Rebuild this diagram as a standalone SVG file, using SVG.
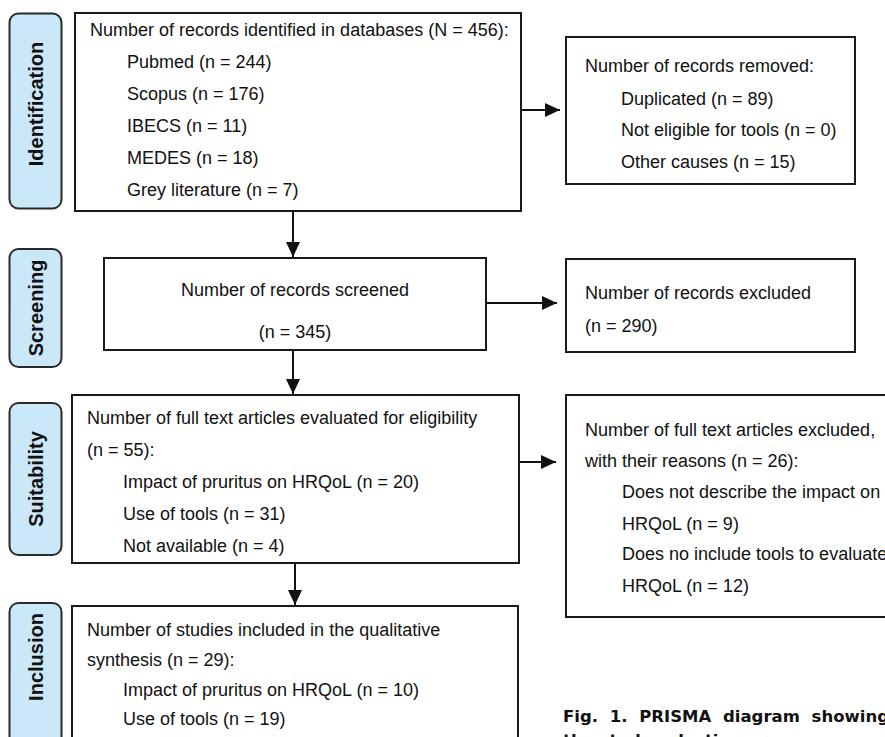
<svg xmlns="http://www.w3.org/2000/svg" width="885" height="737" viewBox="0 0 885 737">
<style>
  .box { fill: #ffffff; stroke: #1a1a1a; stroke-width: 2; }
  .side { fill: #cbe8f9; stroke: #2a2a2a; stroke-width: 2; }
  .t { font-family: "Liberation Sans", Arial, sans-serif; font-size: 18px; fill: #111111; }
  .lbl { font-family: "Liberation Sans", Arial, sans-serif; font-size: 20px; font-weight: bold; fill: #111111; text-anchor: middle; }
  .cap { font-family: "DejaVu Sans", Verdana, sans-serif; font-size: 16.5px; font-weight: bold; fill: #111111; }
  .conn line { stroke: #111111; stroke-width: 2; marker-end: url(#arr); }
</style>
<defs>
  <marker id="arr" markerUnits="userSpaceOnUse" markerWidth="15" markerHeight="14" viewBox="0 0 15 14" refX="15" refY="7" orient="auto">
    <path d="M0,0 L15,7 L0,14 z" fill="#111111"/>
  </marker>
</defs>
<rect width="885" height="737" fill="#ffffff"/>

<g id="stage-identification">
  <rect class="side" x="9.5" y="13.5" width="52" height="195" rx="9"/>
  <text class="lbl" transform="translate(35.5,104) rotate(-90)" dy="0.36em">Identification</text>
</g>
<g id="stage-screening">
  <rect class="side" x="9.5" y="249" width="52" height="118" rx="9"/>
  <text class="lbl" transform="translate(35.5,308) rotate(-90)" dy="0.36em">Screening</text>
</g>
<g id="stage-suitability">
  <rect class="side" x="9.5" y="403" width="52" height="152" rx="9"/>
  <text class="lbl" transform="translate(35.5,479) rotate(-90)" dy="0.36em">Suitability</text>
</g>
<g id="stage-inclusion">
  <rect class="side" x="9.5" y="603" width="52" height="160" rx="9"/>
  <text class="lbl" transform="translate(35.5,657) rotate(-90)" dy="0.36em">Inclusion</text>
</g>

<g id="identified">
  <rect class="box" x="75" y="13" width="446" height="198"/>
  <text class="t" x="90" y="36">Number of records identified in databases (N = 456):</text>
  <text class="t" x="127" y="68">Pubmed (n = 244)</text>
  <text class="t" x="127" y="100">Scopus (n = 176)</text>
  <text class="t" x="127" y="132">IBECS (n = 11)</text>
  <text class="t" x="127" y="164">MEDES (n = 18)</text>
  <text class="t" x="127" y="196">Grey literature (n = 7)</text>
</g>
<g id="removed">
  <rect class="box" x="566" y="37" width="289" height="147"/>
  <text class="t" x="585" y="72">Number of records removed:</text>
  <text class="t" x="621" y="105">Duplicated (n = 89)</text>
  <text class="t" x="621" y="136">Not eligible for tools (n = 0)</text>
  <text class="t" x="621" y="168">Other causes (n = 15)</text>
</g>
<g id="screened">
  <rect class="box" x="104" y="258" width="382" height="92"/>
  <text class="t" x="295" y="296" text-anchor="middle">Number of records screened</text>
  <text class="t" x="295" y="338" text-anchor="middle">(n = 345)</text>
</g>
<g id="excluded">
  <rect class="box" x="566" y="259" width="289" height="93"/>
  <text class="t" x="585" y="299">Number of records excluded</text>
  <text class="t" x="585" y="332">(n = 290)</text>
</g>
<g id="eligibility">
  <rect class="box" x="72" y="395" width="447" height="168"/>
  <text class="t" x="87" y="424">Number of full text articles evaluated for eligibility</text>
  <text class="t" x="87" y="456">(n = 55):</text>
  <text class="t" x="123" y="488">Impact of pruritus on HRQoL (n = 20)</text>
  <text class="t" x="123" y="520">Use of tools (n = 31)</text>
  <text class="t" x="123" y="552">Not available (n = 4)</text>
</g>
<g id="fulltext-excluded">
  <rect class="box" x="566" y="395" width="340" height="222"/>
  <text class="t" x="585" y="436">Number of full text articles excluded,</text>
  <text class="t" x="585" y="467">with their reasons (n = 26):</text>
  <text class="t" x="622" y="498">Does not describe the impact on</text>
  <text class="t" x="622" y="530">HRQoL (n = 9)</text>
  <text class="t" x="622" y="560">Does no include tools to evaluate</text>
  <text class="t" x="622" y="592">HRQoL (n = 12)</text>
</g>
<g id="included">
  <rect class="box" x="72" y="606" width="446" height="160"/>
  <text class="t" x="87" y="636">Number of studies included in the qualitative</text>
  <text class="t" x="87" y="666">synthesis (n = 29):</text>
  <text class="t" x="123" y="696">Impact of pruritus on HRQoL (n = 10)</text>
  <text class="t" x="123" y="725">Use of tools (n = 19)</text>
</g>

<g id="connectors" class="conn">
  <line x1="521" y1="110" x2="560" y2="110"/>
  <line x1="293" y1="211" x2="293" y2="257"/>
  <line x1="486" y1="303" x2="557" y2="303"/>
  <line x1="293" y1="350" x2="293" y2="394"/>
  <line x1="519" y1="462" x2="556" y2="462"/>
  <line x1="295" y1="563" x2="295" y2="605"/>
</g>

<g id="caption">
  <text class="cap" x="563" y="722" word-spacing="6">Fig. 1. PRISMA diagram showing</text>
  <text class="cap" x="563" y="746">the study selection process.</text>
</g>
</svg>
